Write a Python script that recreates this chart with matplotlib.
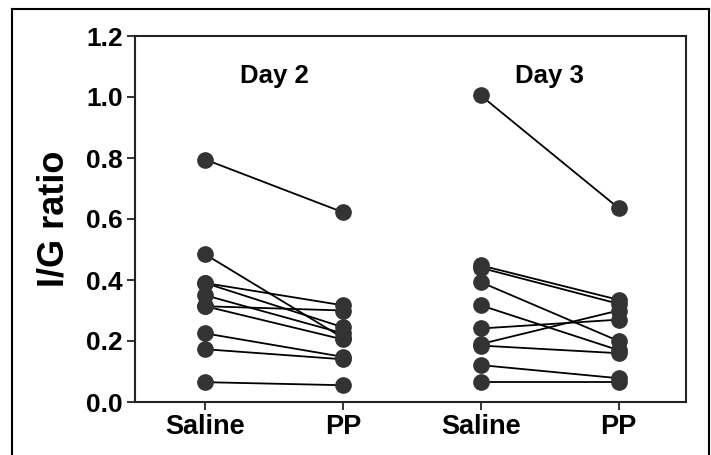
import matplotlib
matplotlib.use("Agg")
import matplotlib.pyplot as plt
from matplotlib.lines import Line2D

plt.rcParams['font.family'] = ['Liberation Sans', 'DejaVu Sans']
plt.rcParams['font.weight'] = 'bold'

categories = ["Saline", "PP", "Saline", "PP"]
day_labels = ["Day 2", "Day 3"]

day2_saline = [0.795, 0.484, 0.390, 0.390, 0.350, 0.314, 0.314, 0.225, 0.173, 0.065]
day2_pp     = [0.622, 0.210, 0.317, 0.245, 0.225, 0.300, 0.205, 0.148, 0.140, 0.055]

day3_saline = [1.005, 0.448, 0.440, 0.393, 0.317, 0.241, 0.190, 0.185, 0.121, 0.065]
day3_pp     = [0.636, 0.335, 0.322, 0.200, 0.170, 0.270, 0.300, 0.160, 0.078, 0.065]

yticks = [0.0, 0.2, 0.4, 0.6, 0.8, 1.0, 1.2]

W, H = 711, 455
fig = plt.figure(figsize=(W / 100, H / 100), dpi=100)
ax = fig.add_axes([135 / W, 1 - 402 / H, (686 - 135) / W, (402 - 36) / H])

dark = "#333333"
for xs, (sal, pp) in zip([(1, 2), (3, 4)], [(day2_saline, day2_pp), (day3_saline, day3_pp)]):
    for s, p in zip(sal, pp):
        ax.plot(xs, [s, p], color="black", lw=1.3, zorder=2)
    ax.plot([xs[0]] * len(sal), sal, 'o', color=dark, ms=11, mec=dark, zorder=3, clip_on=False)
    ax.plot([xs[1]] * len(pp), pp, 'o', color=dark, ms=11, mec=dark, zorder=3, clip_on=False)

ax.set_xlim(0.49, 4.49)
ax.set_ylim(0, 1.2)
ax.set_xticks([1, 2, 3, 4])
ax.set_xticklabels(categories, fontsize=19.5, fontweight='bold')
ax.set_yticks(yticks)
ax.set_yticklabels([f"{v:.1f}" for v in yticks], fontsize=19, fontweight='bold')
ax.set_ylabel("I/G ratio", fontsize=26, fontweight='bold', labelpad=10)

for sp in ax.spines.values():
    sp.set_linewidth(1.5)
    sp.set_color("#222222")
ax.tick_params(axis='both', direction='out', length=6, width=1.3, color="#222222", pad=3)

ax.text(1.5, 1.07, day_labels[0], ha='center', va='center', fontsize=18.5, fontweight='bold')
ax.text(3.5, 1.07, day_labels[1], ha='center', va='center', fontsize=18.5, fontweight='bold')

# outer frame
def px(x, y):
    return (x / W, 1 - y / H)
for (x0, y0), (x1, y1) in [((12, 9), (709, 9)), ((12, 9), (12, 455)), ((709, 9), (709, 455))]:
    a, b = px(x0, y0), px(x1, y1)
    fig.add_artist(Line2D([a[0], b[0]], [a[1], b[1]], color="black", lw=1.5, transform=fig.transFigure))

fig.savefig("out.png", dpi=100)
